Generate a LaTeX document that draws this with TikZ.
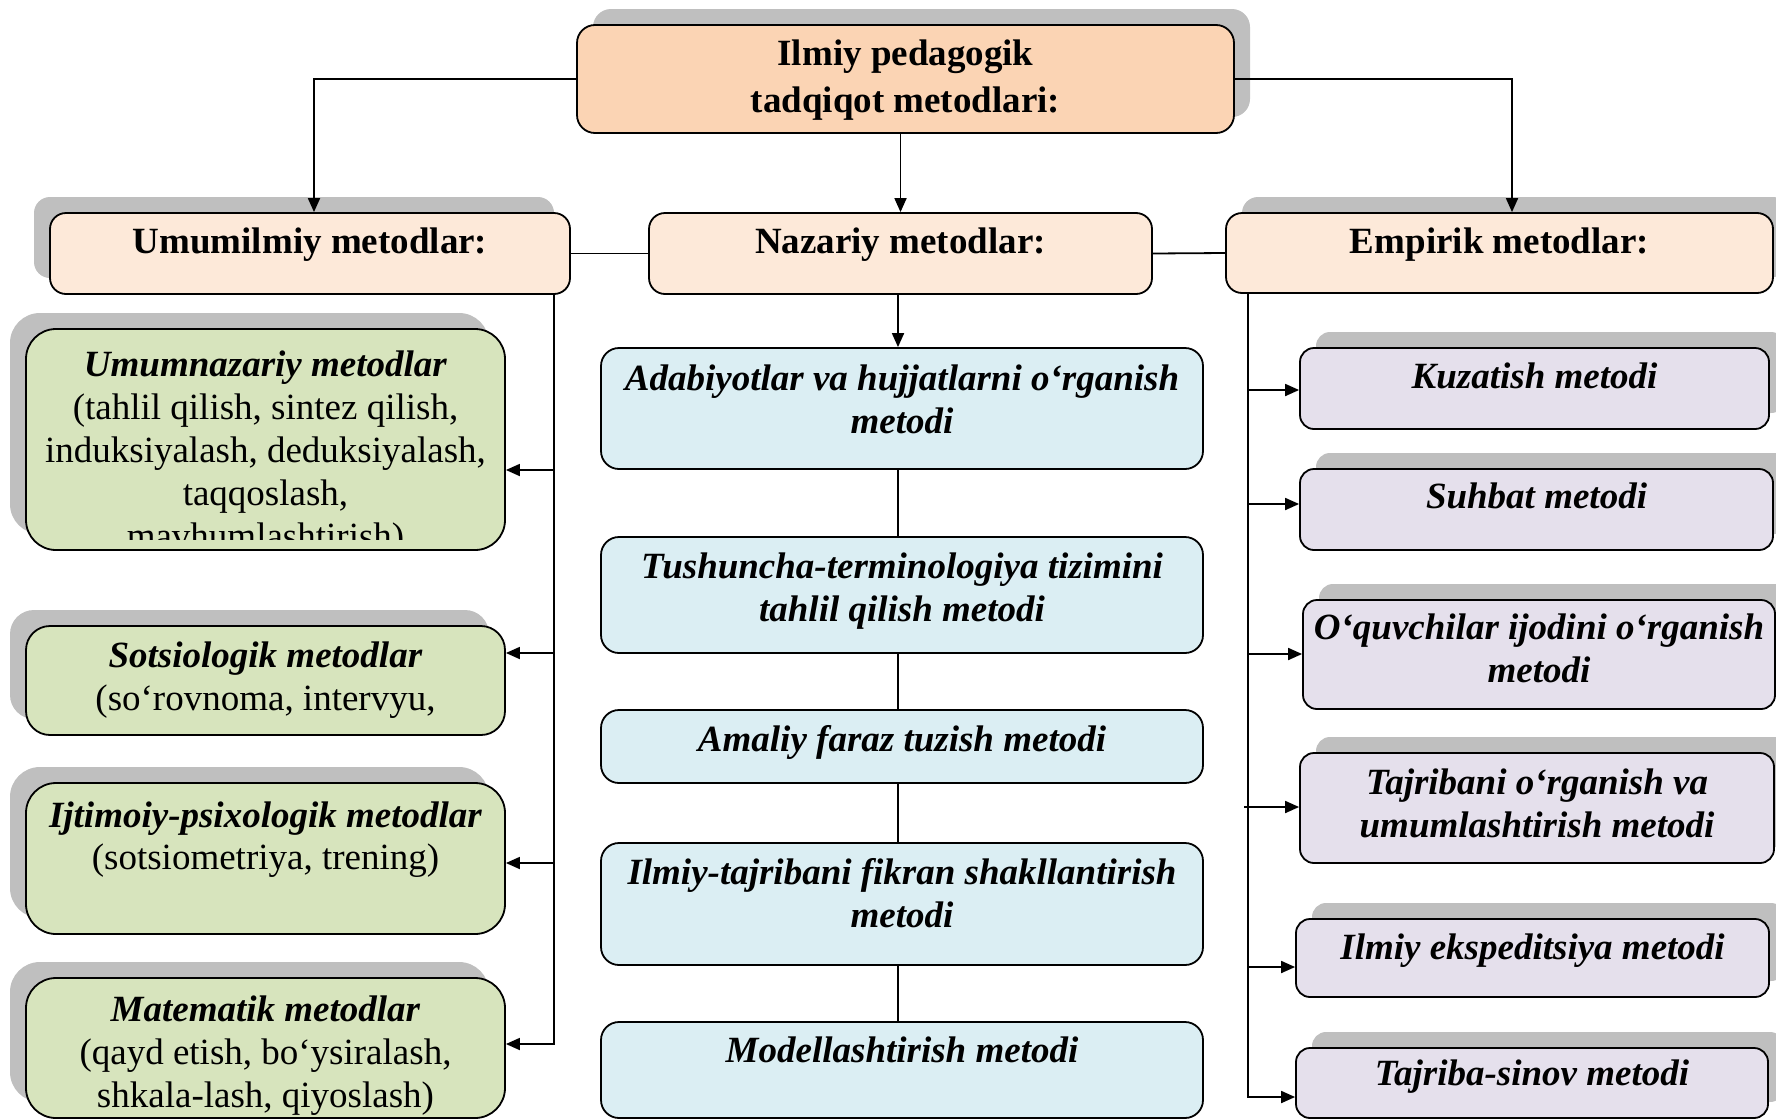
\documentclass[tikz,border=0pt]{standalone}
\usepackage{fontspec}
\setmainfont{Liberation Serif}
\usetikzlibrary{positioning}
\usetikzlibrary{shadows}
\usetikzlibrary{arrows.meta}
\definecolor{shgray}{HTML}{BFBFBF}
\definecolor{peach}{HTML}{FBD4B4}
\definecolor{lpeach}{HTML}{FDE9D9}
\definecolor{lgreen}{HTML}{D7E4BD}
\definecolor{lblue}{HTML}{DBEEF3}
\definecolor{lviolet}{HTML}{E5E0EC}
\tikzstyle{bx}=[rectangle, rounded corners=16pt, draw, line width=1.8pt, inner sep=0pt]
\tikzstyle{txt}=[inner sep=0pt, align=center, font=\fontsize{37}{43}\selectfont]
\tikzstyle{shr}=[drop shadow={shadow xshift=16pt, shadow yshift=16pt, fill=shgray, opacity=1}]
\tikzstyle{shl}=[drop shadow={shadow xshift=-16pt, shadow yshift=16pt, fill=shgray, opacity=1}]
\tikzset{>={Triangle[length=14pt,width=12pt]}}

\begin{document}
\begin{tikzpicture}[x=1pt, y=-1pt, line width=1.8pt]
\useasboundingbox (0,0) rectangle (1776,1119);

% top box
\node[bx, shr, fill=peach, rounded corners=18pt, minimum width=657pt, minimum height=108pt] (ttl) at (905.5,79) {};
\node[txt, font=\fontsize{37}{47}\selectfont, below=15pt of ttl.north] {\textbf{Ilmiy pedagogik}\\\textbf{tadqiqot metodlari:}};

% second row
\node[bx, shl, fill=lpeach, minimum width=520pt, minimum height=81pt] (umm) at (310,253.5) {};
\node[txt, below=15pt of umm.north] {\textbf{Umumilmiy metodlar:}};
\node[bx, fill=lpeach, minimum width=503pt, minimum height=81pt] (naz) at (900.5,253.5) {};
\node[txt, below=15pt of naz.north] {\textbf{Nazariy metodlar:}};
\node[bx, shr, fill=lpeach, minimum width=547pt, minimum height=80pt] (emp) at (1499.5,253) {};
\node[txt, below=15pt of emp.north] {\textbf{Empirik metodlar:}};

% left column
\node[bx, shl, fill=lgreen, rounded corners=30pt, minimum width=479pt, minimum height=221pt] (umn) at (265.5,439.5) {};
\begin{scope}
\clip (umn.north west) rectangle ([yshift=11pt]umn.south east);
\node[txt, below=22pt of umn.north] {\textbf{\textit{Umumnazariy metodlar}}\\(tahlil qilish, sintez qilish,\\induksiyalash, deduksiyalash,\\taqqoslash,\\mavhumlashtirish)};
\end{scope}
\node[bx, shl, fill=lgreen, rounded corners=24pt, minimum width=479pt, minimum height=109pt] (sot) at (265.5,680.5) {};
\node[txt, below=16pt of sot.north] {\textbf{\textit{Sotsiologik metodlar}}\\(so‘rovnoma, intervyu,};
\node[bx, shl, fill=lgreen, rounded corners=30pt, minimum width=479pt, minimum height=151pt] (ijt) at (265.5,858.5) {};
\node[txt, font=\fontsize{37}{42}\selectfont, below=19pt of ijt.north] {\textbf{\textit{Ijtimoiy-psixologik metodlar}}\\(sotsiometriya, trening)};
\node[bx, shl, fill=lgreen, rounded corners=30pt, minimum width=479pt, minimum height=140pt] (mat) at (265.5,1048) {};
\node[txt, below=18pt of mat.north] {\textbf{\textit{Matematik metodlar}}\\(qayd etish, bo‘ysiralash,\\shkala-lash, qiyoslash)};

% middle column
\node[bx, fill=lblue, rounded corners=18pt, minimum width=602pt, minimum height=121pt] (ada) at (902,408.5) {};
\node[txt, below=17pt of ada.north] {\textbf{\textit{Adabiyotlar va hujjatlarni o‘rganish}}\\\textbf{\textit{metodi}}};
\node[bx, fill=lblue, rounded corners=18pt, minimum width=602pt, minimum height=116pt] (tus) at (902,595) {};
\node[txt, below=16pt of tus.north] {\textbf{\textit{Tushuncha-terminologiya tizimini}}\\\textbf{\textit{tahlil qilish metodi}}};
\node[bx, fill=lblue, rounded corners=18pt, minimum width=602pt, minimum height=73pt] (ama) at (902,746.5) {};
\node[txt, below=15pt of ama.north] {\textbf{\textit{Amaliy faraz tuzish metodi}}};
\node[bx, fill=lblue, rounded corners=18pt, minimum width=602pt, minimum height=122pt] (ilt) at (902,904) {};
\node[txt, below=15pt of ilt.north] {\textbf{\textit{Ilmiy-tajribani fikran shakllantirish}}\\\textbf{\textit{metodi}}};
\node[bx, fill=lblue, rounded corners=18pt, minimum width=602pt, minimum height=96pt] (mod) at (902,1070) {};
\node[txt, below=15pt of mod.north] {\textbf{\textit{Modellashtirish metodi}}};

% right column
\node[bx, shr, fill=lviolet, rounded corners=14pt, minimum width=469pt, minimum height=81pt] (kuz) at (1534.5,388.5) {};
\node[txt, below=15pt of kuz.north] {\textbf{\textit{Kuzatish metodi}}};
\node[bx, shr, fill=lviolet, rounded corners=14pt, minimum width=473pt, minimum height=81pt] (suh) at (1536.5,509.5) {};
\node[txt, below=14pt of suh.north] {\textbf{\textit{Suhbat metodi}}};
\node[bx, shr, fill=lviolet, rounded corners=14pt, minimum width=472pt, minimum height=109pt] (oqu) at (1539,654.5) {};
\node[txt, below=14pt of oqu.north] {\textbf{\textit{O‘quvchilar ijodini o‘rganish}}\\\textbf{\textit{metodi}}};
\node[bx, shr, fill=lviolet, rounded corners=14pt, minimum width=474pt, minimum height=110pt] (taj) at (1537,808) {};
\node[txt, below=16pt of taj.north] {\textbf{\textit{Tajribani o‘rganish va}}\\\textbf{\textit{umumlashtirish metodi}}};
\node[bx, shr, fill=lviolet, rounded corners=14pt, minimum width=473pt, minimum height=78pt] (ilm) at (1532.5,958) {};
\node[txt, below=15pt of ilm.north] {\textbf{\textit{Ilmiy ekspeditsiya metodi}}};
\node[bx, shr, fill=lviolet, rounded corners=14pt, minimum width=472pt, minimum height=70pt] (tsv) at (1532,1083) {};
\node[txt, below=12pt of tsv.north] {\textbf{\textit{Tajriba-sinov metodi}}};

% top connectors
\draw[->] (ttl.west) -| ([xshift=4pt]umm.north);
\draw[->] (ttl.east) -| ([xshift=12.5pt]emp.north);
\draw[->] (ttl.south -| naz.north) -- (naz.north);
\draw (umm.east) -- (naz.west);
\draw (naz.east) -- (emp.west);

% left bus
\coordinate (l1) at (554,470);
\coordinate (l2) at (554,653);
\coordinate (l3) at (554,863);
\coordinate (l4) at (554,1044);
\draw[->] (umm.south -| l4) -- (l4) -- (l4 -| mat.east);
\draw[->] (l1) -- (l1 -| umn.east);
\draw[->] (l2) -- (l2 -| sot.east);
\draw[->] (l3) -- (l3 -| ijt.east);

% middle chain
\coordinate (cx) at (898,0);
\draw[->] (naz.south -| cx) -- (ada.north -| cx);
\draw (ada.south -| cx) -- (tus.north -| cx);
\draw (tus.south -| cx) -- (ama.north -| cx);
\draw (ama.south -| cx) -- (ilt.north -| cx);
\draw (ilt.south -| cx) -- (mod.north -| cx);

% right bus
\coordinate (r1) at (1248,390);
\coordinate (r2) at (1248,504);
\coordinate (r3) at (1248,654);
\coordinate (r4) at (1244,807);
\coordinate (r5) at (1248,967);
\coordinate (r6) at (1248,1097);
\draw[->] (emp.south -| r6) -- (r6) -- (r6 -| tsv.west);
\draw[->] (r1) -- (r1 -| kuz.west);
\draw[->] (r2) -- (r2 -| suh.west);
\draw[->] (r3) -- (r3 -| oqu.west);
\draw[->] (r4) -- (r4 -| taj.west);
\draw[->] (r5) -- (r5 -| ilm.west);

\end{tikzpicture}
\end{document}
